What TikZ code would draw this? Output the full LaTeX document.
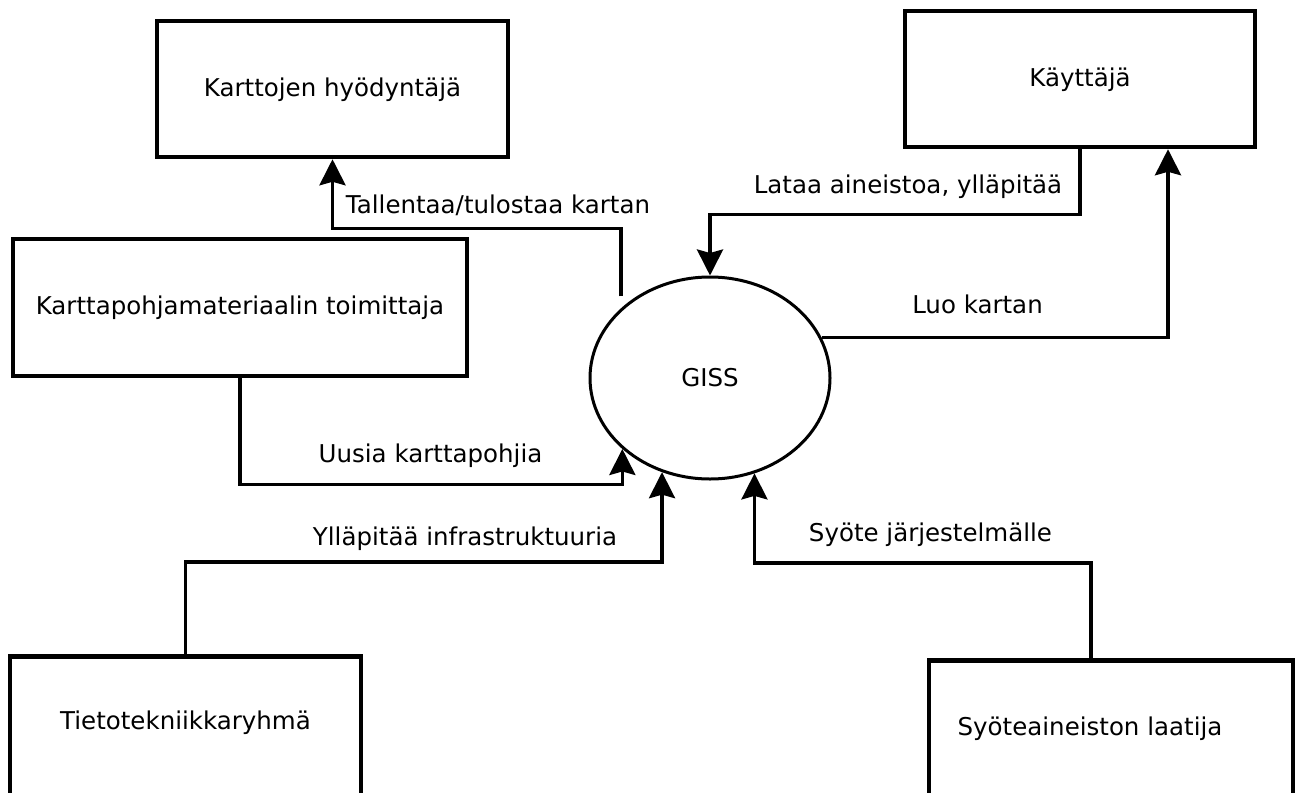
\documentclass[tikz,border=0pt]{standalone}
\usepackage{fontspec}
\setmainfont{DejaVu Sans}
\usetikzlibrary{arrows.meta,shapes.geometric}

\tikzset{
  every node/.style={font=\fontsize{24.5}{29}\selectfont},
  actor/.style={rectangle, draw, line width=4.5pt, inner sep=0pt, text height=18pt, text depth=4pt},
  cutbox/.style={actor, anchor=north, text depth=18pt},
  flow/.style={line width=3.5pt, -{Stealth[length=26pt, width=26pt, inset=3.5pt]}},
  lbl/.style={anchor=base, inner sep=0pt}
}

\begin{document}
\begin{tikzpicture}[x=1pt, y=-1pt]
        % Size of the picture
        \useasboundingbox (0,0) rectangle (1295,792);

        % Draw the system in the middle
        \node[ellipse, draw, line width=3pt, minimum width=240pt, minimum height=202pt, inner sep=0pt] (giss) at (710,378) {GISS};

        % Draw the actors round it
        \node[actor, minimum width=351pt, minimum height=136pt] (hyod) at (332.5,89) {Karttojen hyödyntäjä};
        \node[actor, minimum width=454pt, minimum height=137pt] (toim) at (240,307.5) {Karttapohjamateriaalin toimittaja};
        \node[actor, minimum width=350pt, minimum height=136pt] (kayt) at (1080,79) {Käyttäjä};
        \node[cutbox, minimum width=351pt, minimum height=146pt] (tieto) at (185.5,654) {Tietotekniikkaryhmä};
        \node[cutbox, minimum width=364pt, minimum height=150pt] (laat) at (1111,658) {Syöteaineiston laatija\hspace*{42pt}};

        % Connect the actors and the system
        \draw[flow] ([yshift=12pt]giss.142) -- ++(0,-68) -| (hyod.south);
        \draw[flow] (toim.south) -- ++(0,106) -| (giss.219);
        \draw[flow] (tieto.north) -- ++(0,-92) -| (giss.243);
        \draw[flow] ([xshift=-20pt]laat.north) -- ++(0,-95) -| (giss.295);
        \draw[flow] (kayt.south) -- ++(0,65) -| (giss.north);
        \draw[flow] (giss.20) -| ([xshift=88pt]kayt.south);

        % Labels of the connectors
        \node[lbl] (tall) at (498,213) {Tallentaa/tulostaa kartan};
        \node[lbl] (lataa) at (908,193) {Lataa aineistoa, ylläpitää};
        \node[lbl] (luo) at (977.5,313) {Luo kartan};
        \node[lbl] (uusia) at (430.5,462) {Uusia karttapohjia};
        \node[lbl] (yllap) at (465,545) {Ylläpitää infrastruktuuria};
        \node[lbl] (syote) at (930.5,541) {Syöte järjestelmälle};
      \end{tikzpicture}
\end{document}
